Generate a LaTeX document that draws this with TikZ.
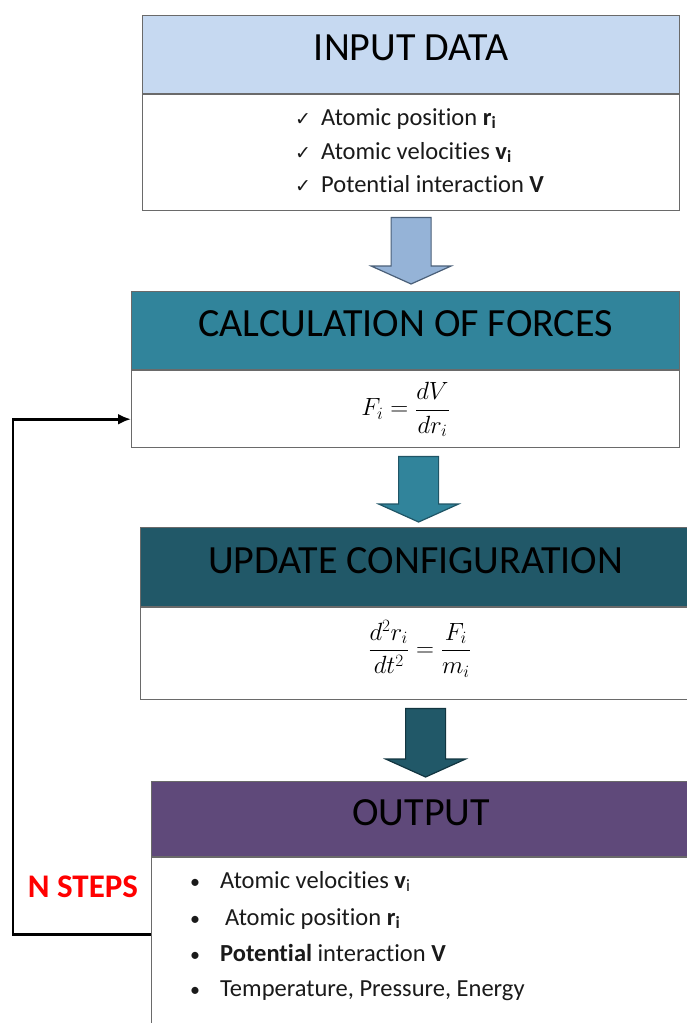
\documentclass[tikz,border=0pt]{standalone}
\usepackage{fontspec}
\setmainfont{Carlito}[Ligatures=NoCommon]
\newfontfamily\symfont{DejaVu Sans}
\usetikzlibrary{calc,arrows.meta}

\definecolor{inhead}{HTML}{C6D9F1}
\definecolor{inarrow}{HTML}{95B3D7}
\definecolor{inarrowline}{HTML}{4A5F78}
\definecolor{cfhead}{HTML}{31849B}
\definecolor{cfarrowline}{HTML}{1F5566}
\definecolor{uphead}{HTML}{215868}
\definecolor{uparrowline}{HTML}{123540}
\definecolor{outhead}{HTML}{5F497A}
\definecolor{boxline}{HTML}{6A6A6A}
\definecolor{itemtext}{HTML}{1A1A1A}

\tikzset{
  hdr/.style={draw=boxline, line width=1.2pt, inner sep=0pt, anchor=north west,
    font=\fontsize{40}{48}\selectfont, text=black, text depth=14pt},
  bodybox/.style={draw=boxline, line width=1.2pt, fill=white, inner sep=0pt, anchor=north west},
  item/.style={anchor=base west, inner sep=0pt, font=\fontsize{24.5}{30}\selectfont, text=itemtext},
  eq/.style={inner sep=0pt, font=\fontsize{26}{30}\selectfont},
  feedback/.style={draw=black, line width=2.8pt, -{Latex[length=13pt,width=11pt]}},
  steps/.style={text=red, inner sep=0pt, font=\fontsize{33}{38}\selectfont\bfseries},
}

% block arrow from a top point straight down to a tip point
\newcommand\blockarrow[3]{%
  \draw[#1, line width=1.2pt, line join=miter] let \p1=#2, \p2=#3 in
    (\x1-20pt,\y1) -- (\x1+20pt,\y1) -- (\x1+20pt,\y2+18pt) -- (\x1+40pt,\y2+18pt)
    -- (\x1,\y2) -- (\x1-40pt,\y2+18pt) -- (\x1-20pt,\y2+18pt) -- cycle;}

\newcommand\chk{\makebox[26pt][l]{\symfont\fontsize{19}{20}\selectfont ✓}}
\newcommand\bul{\makebox[30pt][l]{\fontsize{20}{20}\selectfont •}}

\begin{document}
\begin{tikzpicture}[x=1pt,y=-1pt]
  \useasboundingbox (0,0) rectangle (687,1023);
  \clip (0,0) rectangle (687,1023);

  % input data
  \node[hdr, fill=inhead, minimum width=537pt, minimum height=78pt] (inh) at (142,15) {INPUT DATA};
  \node[bodybox, minimum width=537pt, minimum height=116pt] (inb) at (inh.south west) {};
  \node[item] (in1) at (295,125) {\chk Atomic position \textbf{r\textsubscript{i}}};
  \node[item] (in2) at (295,159) {\chk Atomic velocities \textbf{v\textsubscript{i}}};
  \node[item] (in3) at (295,192) {\chk Potential interaction \textbf{V}};

  % calculation of forces
  \node[hdr, fill=cfhead, minimum width=548pt, minimum height=78pt] (cfh) at (131,291) {CALCULATION OF FORCES};
  \node[bodybox, minimum width=548pt, minimum height=77pt] (cfb) at (cfh.south west) {};
  \node[eq] (cfeq) at (cfb.center) {$\displaystyle F_i=\frac{dV}{dr_i}$};

  % update configuration
  \node[hdr, fill=uphead, minimum width=550pt, minimum height=79pt] (uph) at (140,527) {UPDATE CONFIGURATION};
  \node[bodybox, minimum width=550pt, minimum height=92pt] (upb) at (uph.south west) {};
  \node[eq] (upeq) at ($(upb.center)+(4,-5)$) {$\displaystyle \frac{d^2r_i}{dt^2}=\frac{F_i}{m_i}$};

  % output
  \node[hdr, fill=outhead, minimum width=539pt, minimum height=75pt] (outh) at (151,781) {OUTPUT};
  \node[bodybox, minimum width=539pt, minimum height=180pt] (outb) at (outh.south west) {};
  \node[item] (out1) at (190,888) {\bul Atomic velocities \textbf{v}\textsubscript{i}};
  \node[item] (out2) at (190,925) {\bul\hspace{5pt}Atomic position \textbf{r\textsubscript{i}}};
  \node[item] (out3) at (190,961) {\bul\textbf{Potential} interaction \textbf{V}};
  \node[item] (out4) at (190,996) {\bul Temperature, Pressure, Energy};

  % flow arrows between the stages
  \blockarrow{fill=inarrow, draw=inarrowline}{($(inb.south)+(0,6)$)}{($(inb.south |- cfh.north)+(0,-7)$)}
  \blockarrow{fill=cfhead, draw=cfarrowline}{($(cfb.south)+(13,8)$)}{($(cfb.south |- uph.north)+(13,-5)$)}
  \blockarrow{fill=uphead, draw=uparrowline}{($(upb.south)+(10,8)$)}{($(upb.south |- outh.north)+(10,-4)$)}

  % feedback loop
  \coordinate (loopout) at ($(outb.north west)+(0,77)$);
  \coordinate (loopin) at ($(cfb.north west)+(0,49)$);
  \coordinate (loopcorner) at (13,0);
  \draw[feedback] (loopout) -| (loopcorner |- loopin) -- (loopin);
  \node[steps] (nsteps) at (83,887) {N STEPS};
\end{tikzpicture}
\end{document}
